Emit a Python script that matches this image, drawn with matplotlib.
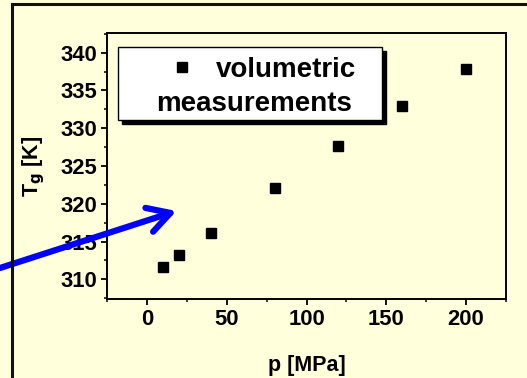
import matplotlib
matplotlib.use("Agg")
import matplotlib.pyplot as plt
from matplotlib.patches import Rectangle
from matplotlib.lines import Line2D
from matplotlib.ticker import MultipleLocator

# data
pressure = [10, 20, 40, 80, 120, 160, 200]          # p [MPa]
tg = [311.6, 313.2, 316.2, 322.1, 327.6, 332.9, 337.9]  # Tg [K]
x_ticks = [0, 50, 100, 150, 200]
y_ticks = [310, 315, 320, 325, 330, 335, 340]

bg = '#FFFFDC'
plt.rcParams['font.family'] = ['Liberation Sans', 'DejaVu Sans']
plt.rcParams['font.weight'] = 'bold'

fig = plt.figure(figsize=(5.27, 3.78), dpi=100, facecolor=bg)
ax = fig.add_axes([107 / 527, 1 - 299 / 378, 399 / 527, 266 / 378])
ax.set_facecolor(bg)

sc, = ax.plot(pressure, tg, 's', color='black', markersize=6.8, ls='none')

ax.set_xlim(-25, 225)
ax.set_ylim(307.4, 342.6)
ax.set_xticks(x_ticks)
ax.set_yticks(y_ticks)
ax.xaxis.set_minor_locator(MultipleLocator(25))
ax.yaxis.set_minor_locator(MultipleLocator(2.5))
ax.tick_params(which='major', direction='out', length=4.5, width=1.3, labelsize=15.8, pad=2.5)
ax.tick_params(which='minor', direction='out', length=2.5, width=1.1)
for lab in ax.get_xticklabels() + ax.get_yticklabels():
    lab.set_fontweight('bold')
for s in ax.spines.values():
    s.set_linewidth(1.4)

ax.set_xlabel('p [MPa]', fontsize=15.5, fontweight='bold', labelpad=18)
ax.set_ylabel('T$_\\mathbf{g}$ [K]', fontsize=15.5, fontweight='bold', labelpad=10)

# legend box with shadow
ax.add_patch(Rectangle((0.038, 0.658), 0.662, 0.274, transform=ax.transAxes,
                       facecolor='black', edgecolor='black', zorder=4))
ax.add_patch(Rectangle((0.028, 0.673), 0.662, 0.274, transform=ax.transAxes,
                       facecolor='white', edgecolor='black', lw=1, zorder=5))
leg = ax.legend(handles=[sc], labels=['volumetric'], loc='center left',
                bbox_to_anchor=(0.152, 0.861), frameon=False, borderpad=0,
                borderaxespad=0, handlelength=1, handletextpad=0.75,
                prop={'size': 20, 'weight': 'bold'})
leg.set_zorder(6)
ax.text(0.368, 0.733, 'measurements', transform=ax.transAxes, ha='center',
        va='center', fontsize=20, fontweight='bold', zorder=6)

# outer frame
fig.add_artist(Line2D([12 / 527, 12 / 527], [0, 1 - 4 / 378], color='#111111', lw=2.2))
fig.add_artist(Line2D([12 / 527, 1], [1 - 4 / 378, 1 - 4 / 378], color='#111111', lw=2.2))

# blue arrow
ax.annotate('', xy=(176.5 / 527, 1 - 211 / 378), xycoords='figure fraction',
            xytext=(0, 1 - 268 / 378), textcoords='figure fraction',
            arrowprops=dict(arrowstyle='->,head_length=0.8,head_width=0.45',
                            color='#0000FF', lw=4.5, mutation_scale=20,
                            shrinkA=0, shrinkB=0),
            annotation_clip=False, zorder=10)

fig.savefig('out.png', dpi=100, facecolor=bg)
